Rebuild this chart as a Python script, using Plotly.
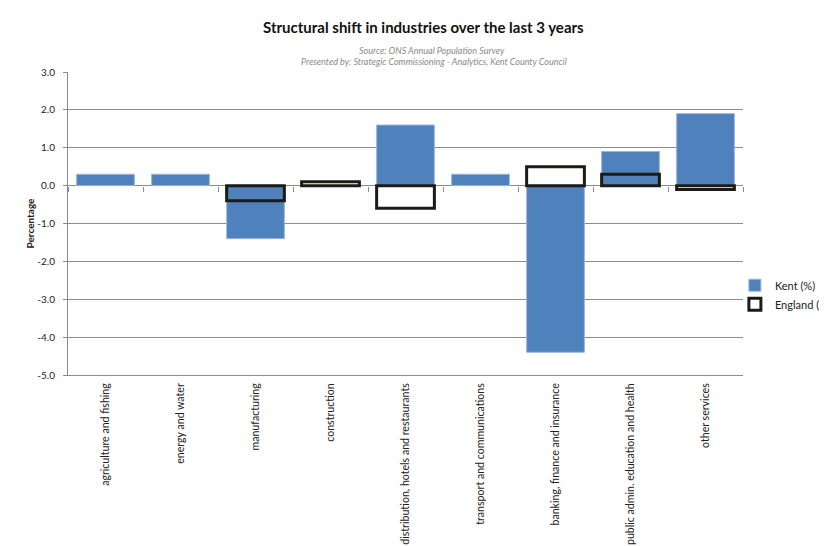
import plotly.graph_objects as go

categories = ["agriculture and fishing", "energy and water", "manufacturing", "construction",
              "distribution, hotels and restaurants", "transport and communications",
              "banking, finance and insurance", "public admin. education and health", "other services"]
kent = [0.3, 0.3, -1.4, 0.0, 1.6, 0.3, -4.4, 0.9, 1.9]
england = [None, None, -0.4, 0.1, -0.6, None, 0.5, 0.3, -0.1]
y_ticks = [3, 2, 1, 0, -1, -2, -3, -4, -5]
y_tick_text = ["3.0", "2.0", "1.0", "0.0", "-1.0", "-2.0", "-3.0", "-4.0", "-5.0"]
y_min, y_max = -5, 3

FONT = "Lato, 'Open Sans', sans-serif"
GRID = "#8c8c8c"
n = len(categories)
boundaries = [i - 0.5 for i in range(n + 1)]

fig = go.Figure()
fig.add_trace(go.Bar(x=categories, y=kent, name="Kent (%)", width=0.77,
                     marker=dict(color="#4F81BD", line=dict(color="#9DB5DA", width=1))))
fig.add_trace(go.Bar(x=categories, y=england, name="England (%)", width=0.77,
                     marker=dict(color="rgba(0,0,0,0)", line=dict(color="#1c1c14", width=3))))
# helper invisible trace for the tick marks along the zero line
fig.add_trace(go.Scatter(x=[boundaries[0], boundaries[-1]], y=[0, 0], xaxis="x2", yaxis="y",
                         mode="lines", line=dict(width=0), showlegend=False, hoverinfo="skip"))

fig.update_layout(
    width=835, height=546,
    barmode="overlay",
    paper_bgcolor="white", plot_bgcolor="white",
    margin=dict(l=60, r=100, t=64, b=179, autoexpand=False),
    font=dict(family=FONT, size=10, color="#222222"),
    showlegend=True,
    legend=dict(x=0.988, xanchor="left", y=0.265, yanchor="middle",
                font=dict(size=11, color="#222222"),
                bgcolor="rgba(0,0,0,0)"),
    xaxis=dict(type="category", tickangle=-90, showgrid=False, ticks="",
               showline=True, linecolor=GRID, linewidth=1, mirror=False,
               tickfont=dict(size=10.6, family=FONT, color="#222222"),
               ticklabelstandoff=3,
               zeroline=False, range=[-0.5, n - 0.5]),
    xaxis2=dict(overlaying="x", anchor="free", position=(0 - y_min) / (y_max - y_min),
                range=[boundaries[0], boundaries[-1]], tickvals=boundaries,
                ticks="outside", ticklen=5, tickwidth=1, tickcolor=GRID, showticklabels=False,
                showgrid=False, zeroline=False, showline=False),
    yaxis=dict(range=[y_min, y_max], tickvals=y_ticks, ticktext=y_tick_text,
               showgrid=True, gridcolor=GRID, gridwidth=1,
               zeroline=True, zerolinecolor=GRID, zerolinewidth=1,
               showline=True, linecolor=GRID, linewidth=1,
               ticks="outside", ticklen=4, tickcolor=GRID,
               ticklabelstandoff=6,
               tickfont=dict(size=10, family=FONT, color="#222222"),
               title=dict(text="<b>Percentage</b>", font=dict(size=10, family=FONT, color="#222222"),
                          standoff=0)),
    annotations=[
        dict(text="<b>Structural shift in industries over the last 3 years</b>", xref="paper", yref="paper",
             x=0.527, y=1.0, yshift=45, xanchor="center", yanchor="middle", showarrow=False,
             font=dict(size=15, family=FONT, color="#111111")),
        dict(text="<i>Source: ONS Annual Population Survey</i>", xref="paper", yref="paper",
             x=0.539, y=1.0, yshift=22, xanchor="center", yanchor="middle", showarrow=False,
             font=dict(size=9, family=FONT, color="#8a8a8a")),
        dict(text="<i>Presented by: Strategic Commissioning - Analytics, Kent County Council</i>", xref="paper", yref="paper",
             x=0.542, y=1.0, yshift=11, xanchor="center", yanchor="middle", showarrow=False,
             font=dict(size=9, family=FONT, color="#8a8a8a")),
    ],
)

fig.write_html("out.html")
